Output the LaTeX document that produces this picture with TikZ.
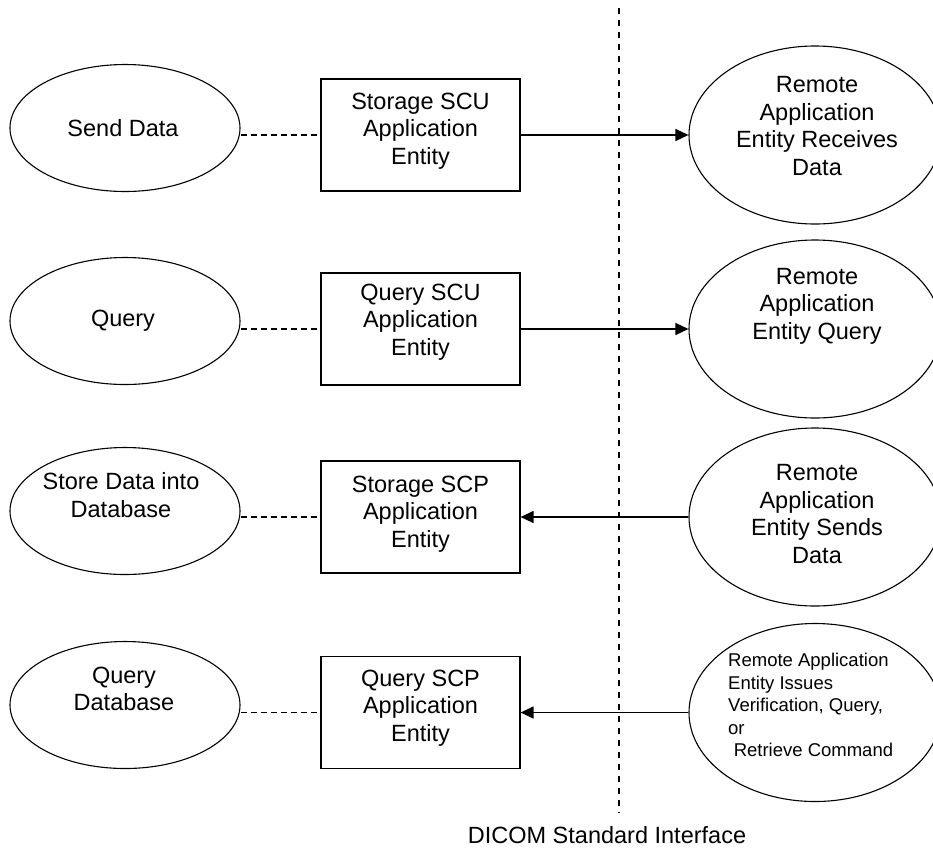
\documentclass[tikz,border=0pt]{standalone}
\usepackage{fontspec}
\setmainfont{Liberation Sans}
\usetikzlibrary{shapes.geometric,arrows.meta}
\begin{document}
\begin{tikzpicture}[x=1pt,y=-1pt,
  lell/.style={ellipse, draw, line width=1.1pt, minimum width=230pt, minimum height=127pt, inner sep=0pt},
  rell/.style={ellipse, draw, line width=1.1pt, minimum width=252pt, minimum height=178pt, inner sep=0pt},
  box/.style={rectangle, draw, line width=1.2pt, minimum width=199pt, minimum height=112pt, inner sep=0pt},
  txt/.style={align=center, font=\fontsize{23.5}{27.5}\selectfont, inner sep=0pt},
  smalltxt/.style={align=left, font=\fontsize{18.5}{22.5}\selectfont, inner sep=0pt},
  dashline/.style={dash pattern=on 6pt off 4pt, line width=1.1pt},
  arr/.style={-{Triangle[length=13pt,width=12pt]}, line width=1.3pt}]
\useasboundingbox (0,0) rectangle (933,847);

% left ellipses
\node[lell] (l1) at (125,128) {};
\node[lell] (l2) at (125,321) {};
\node[lell] (l3) at (125,511) {};
\node[lell] (l4) at (125,705) {};
\node[txt] (lt1) at (123,128) {Send Data};
\node[txt] (lt2) at (123,321) {Query};
\node[txt] (lt3) at (121,495) {Store Data into\\Database};
\node[txt] (lt4) at (124,689) {Query\\Database};

% boxes
\node[box] (b1) at (420.5,135) {};
\node[box] (b2) at (420.5,329) {};
\node[box] (b3) at (420.5,517) {};
\node[box] (b4) at (420.5,712.5) {};
\node[txt] (bt1) at (420.5,131) {Storage SCU\\Application\\Entity};
\node[txt] (bt2) at (420.5,322) {Query SCU\\Application\\Entity};
\node[txt] (bt3) at (420.5,514) {Storage SCP\\Application\\Entity};
\node[txt] (bt4) at (420.5,708) {Query SCP\\Application\\Entity};

% right ellipses
\node[rell] (r1) at (815,135) {};
\node[rell] (r2) at (815,329) {};
\node[rell] (r3) at (815,517) {};
\node[rell] (r4) at (815,712.5) {};
\node[txt] (rt1) at (817,126) {Remote\\Application\\Entity Receives\\Data};
\node[txt] (rt2) at (817,306) {Remote\\Application\\Entity Query};
\node[txt] (rt3) at (817,514) {Remote\\Application\\Entity Sends\\Data};
\node[smalltxt, anchor=west] (rt4) at (728,705) {Remote Application\\Entity Issues\\Verification, Query,\\or\\\hspace*{0.3em}Retrieve Command};

% dashed links
\draw[dashline] (l1.east |- b1.west) -- (b1.west);
\draw[dashline] (l2.east |- b2.west) -- (b2.west);
\draw[dashline] (l3.east |- b3.west) -- (b3.west);
\draw[dashline] (l4.east |- b4.west) -- (b4.west);

% arrows
\draw[arr] (b1.east) -- (r1.west);
\draw[arr] (b2.east) -- (r2.west);
\draw[arr] (r3.west) -- (b3.east);
\draw[arr] (r4.west) -- (b4.east);

% interface line
\coordinate (vtop) at (619,8);
\coordinate (vbot) at (619,813);
\draw[dash pattern=on 6pt off 6pt, line width=1.2pt] (vtop) -- (vbot);
\node[txt] (dicom) at (607,835) {DICOM Standard Interface};
\end{tikzpicture}
\end{document}
